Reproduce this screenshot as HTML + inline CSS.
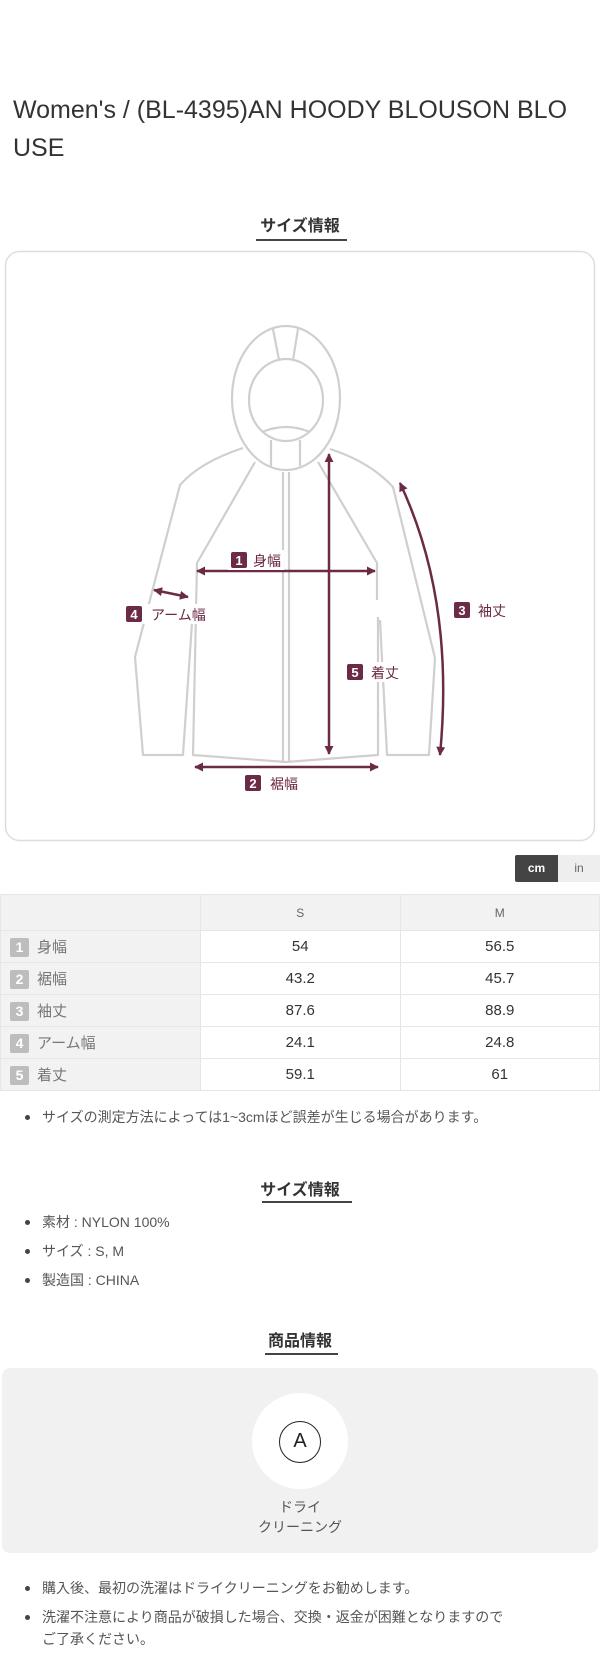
<!DOCTYPE html>
<html><head><meta charset="utf-8"><style>
*{margin:0;padding:0;box-sizing:border-box}
body{width:600px;height:1679px;position:relative;background:#fff;font-family:"Liberation Sans","Noto Sans CJK JP",sans-serif;color:#333;overflow:hidden}
.a{position:absolute}
.title{left:13px;top:91px;font-size:25px;line-height:38px;color:#333;width:585px}
.hd{font-size:16px;font-weight:bold;color:#333;text-align:center;left:0;width:600px}
.ul{height:2px;background:#444}
.li{left:25px;font-size:14px;color:#555;line-height:20px}
.li:before{content:"";position:absolute;left:0;top:8px;width:5px;height:5px;border-radius:50%;background:#444}
.li span{margin-left:17px}
table{position:absolute;left:0;top:894px;width:600px;border-collapse:collapse}
td{border:1px solid #e6e6e6;height:32px;text-align:center;font-size:15px;color:#333}
tr.h td{height:36px;background:#f2f2f2;font-size:12px;color:#666}
td.f{background:#f2f2f2;text-align:left;color:#777;font-size:15px;width:200px}
.b{display:inline-block;width:19px;height:19px;background:#bdbdbd;color:#fff;font-weight:bold;font-size:14px;text-align:center;line-height:19px;margin:0 8px 0 9px;vertical-align:middle;border-radius:2px}
</style></head><body>
<div class="a title">Women's / (BL-4395)AN HOODY BLOUSON BLO<br>USE</div>
<div class="a hd" style="top:212px">サイズ情報</div>
<div class="a ul" style="left:256px;top:239px;width:91px"></div>

<svg class="a" style="left:0;top:0" width="600" height="850" viewBox="0 0 600 850">
<defs>
<marker id="m" viewBox="0 0 10 10" refX="9" refY="5" markerWidth="3.6" markerHeight="3.6" orient="auto-start-reverse"><path d="M0,0L10,5L0,10z" fill="#6b2a45"/></marker>
</defs>
<rect x="5.5" y="251.5" width="589" height="589" rx="14" fill="#fff" stroke="#ddd" stroke-width="1.5"/>
<g fill="none" stroke="#cfcfcf" stroke-width="2.2" stroke-linejoin="round">
<ellipse cx="286" cy="398" rx="54" ry="72"/>
<ellipse cx="286" cy="400" rx="37" ry="41"/>
<path d="M273,329L279,360M298,329L293,360"/>
<path d="M262,432Q286,422 310,432"/>
<path d="M271,440V466M300,440V466"/>
<path d="M283,472V762M289,472V762"/>
<path d="M255,462L197,563L193,755L286,762L378,755L378,617M377,600L377,563L318,462"/>
<path d="M243,448Q200,462 180,485L135,657L143,755L183,755L192,623"/>
<path d="M330,449Q370,462 393,487L435,658L429,755L387,755L380,620"/>
</g>
<g stroke="#6b2a45" stroke-width="2.5" fill="none">
<path d="M197,571H375" marker-start="url(#m)" marker-end="url(#m)"/>
<path d="M329,454V754" marker-start="url(#m)" marker-end="url(#m)"/>
<path d="M195,767H378" marker-start="url(#m)" marker-end="url(#m)"/>
<path d="M400,483Q455,600 440,755" marker-start="url(#m)" marker-end="url(#m)"/>
<path d="M154,590L188,597" marker-start="url(#m)" marker-end="url(#m)"/>
</g>
<g font-size="14" font-family="Liberation Sans,Noto Sans CJK JP,sans-serif">
<rect x="228" y="550" width="56" height="20" fill="#fff"/>
<rect x="231" y="552" width="16" height="16" rx="2" fill="#6b2a45"/><text x="239" y="565" fill="#fff" font-weight="bold" text-anchor="middle" font-size="13">1</text><text x="253" y="566" fill="#6b2a45">身幅</text>
<rect x="123" y="604" width="92" height="20" fill="#fff"/>
<rect x="126" y="606" width="16" height="16" rx="2" fill="#6b2a45"/><text x="134" y="619" fill="#fff" font-weight="bold" text-anchor="middle" font-size="13">4</text><text x="151" y="620" fill="#6b2a45">アーム幅</text>
<rect x="451" y="600" width="60" height="20" fill="#fff"/>
<rect x="454" y="602" width="16" height="16" rx="2" fill="#6b2a45"/><text x="462" y="615" fill="#fff" font-weight="bold" text-anchor="middle" font-size="13">3</text><text x="478" y="616" fill="#6b2a45">袖丈</text>
<rect x="344" y="662" width="60" height="20" fill="#fff"/>
<rect x="347" y="664" width="16" height="16" rx="2" fill="#6b2a45"/><text x="355" y="677" fill="#fff" font-weight="bold" text-anchor="middle" font-size="13">5</text><text x="371" y="678" fill="#6b2a45">着丈</text>
<rect x="242" y="773" width="60" height="20" fill="#fff"/>
<rect x="245" y="775" width="16" height="16" rx="2" fill="#6b2a45"/><text x="253" y="788" fill="#fff" font-weight="bold" text-anchor="middle" font-size="13">2</text><text x="270" y="789" fill="#6b2a45">裾幅</text>
</g>
</svg>

<div class="a" style="left:515px;top:855px;width:43px;height:27px;background:#444;color:#fff;font-size:12px;font-weight:bold;text-align:center;line-height:27px;border-radius:2px 0 0 2px">cm</div>
<div class="a" style="left:558px;top:855px;width:42px;height:27px;background:#eee;color:#666;font-size:12px;text-align:center;line-height:27px">in</div>

<table>
<tr class="h"><td style="background:#f2f2f2"></td><td>S</td><td>M</td></tr>
<tr><td class="f"><span class="b">1</span>身幅</td><td>54</td><td>56.5</td></tr>
<tr><td class="f"><span class="b">2</span>裾幅</td><td>43.2</td><td>45.7</td></tr>
<tr><td class="f"><span class="b">3</span>袖丈</td><td>87.6</td><td>88.9</td></tr>
<tr><td class="f"><span class="b">4</span>アーム幅</td><td>24.1</td><td>24.8</td></tr>
<tr><td class="f"><span class="b">5</span>着丈</td><td>59.1</td><td>61</td></tr>
</table>

<div class="a li" style="top:1107px"><span>サイズの測定方法によっては1~3cmほど誤差が生じる場合があります。</span></div>

<div class="a hd" style="top:1176px">サイズ情報</div>
<div class="a ul" style="left:262px;top:1201px;width:90px"></div>
<div class="a li" style="top:1212px"><span>素材 : NYLON 100%</span></div>
<div class="a li" style="top:1241px"><span>サイズ : S, M</span></div>
<div class="a li" style="top:1270px"><span>製造国 : CHINA</span></div>

<div class="a hd" style="top:1327px">商品情報</div>
<div class="a ul" style="left:265px;top:1353px;width:73px"></div>

<div class="a" style="left:2px;top:1368px;width:596px;height:185px;background:#f1f1f1;border-radius:8px"></div>
<div class="a" style="left:252px;top:1393px;width:96px;height:96px;border-radius:50%;background:#fff"></div>
<div class="a" style="left:279px;top:1421px;width:42px;height:42px;border-radius:50%;border:1.5px solid #222;font-size:20px;text-align:center;line-height:39px;color:#222">A</div>
<div class="a" style="left:0;top:1497px;width:600px;text-align:center;font-size:14px;line-height:20px;color:#555">ドライ<br>クリーニング</div>

<div class="a li" style="top:1578px"><span>購入後、最初の洗濯はドライクリーニングをお勧めします。</span></div>
<div class="a li" style="top:1607px;width:560px"><span>洗濯不注意により商品が破損した場合、交換・返金が困難となりますので</span></div>
<div class="a" style="left:42px;top:1629px;font-size:14px;line-height:20px;color:#555">ご了承ください。</div>
</body></html>
